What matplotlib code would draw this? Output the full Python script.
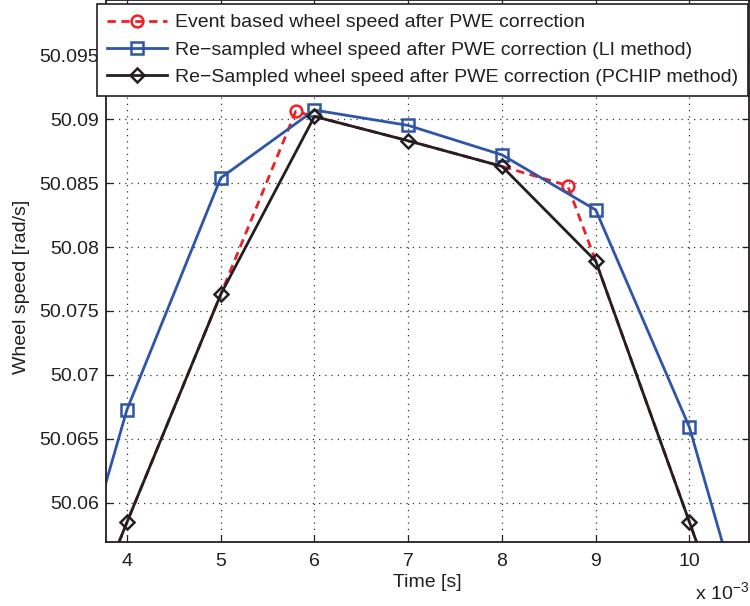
import matplotlib
matplotlib.use("Agg")
from matplotlib import pyplot as plt
from matplotlib.ticker import FuncFormatter, MultipleLocator

plt.rcParams['font.family'] = ['Liberation Sans', 'DejaVu Sans']
plt.rcParams['mathtext.fontset'] = 'custom'
plt.rcParams['mathtext.rm'] = 'Liberation Sans'

# time instants [s]
t_resampled = [0.003, 0.004, 0.005, 0.006, 0.007, 0.008, 0.009, 0.010, 0.011]
t_event = [0.003, 0.004, 0.005, 0.0058, 0.006, 0.007, 0.008, 0.0087, 0.009, 0.010, 0.011]

# wheel speed [rad/s]
speed_event = [50.0403, 50.0585, 50.0763, 50.0906, 50.0902, 50.0883, 50.0863,
               50.0848, 50.0789, 50.0585, 50.0380]
speed_li = [50.0419, 50.0673, 50.0854, 50.0907, 50.0895, 50.0872, 50.0829,
            50.0659, 50.0403]
speed_pchip = [50.0403, 50.0585, 50.0763, 50.0902, 50.0883, 50.0863, 50.0789,
               50.0585, 50.0380]

labels = ['Event based wheel speed after PWE correction',
          'Re\u2212sampled wheel speed after PWE correction (LI method)',
          'Re\u2212Sampled wheel speed after PWE correction (PCHIP method)']

red = '#ee1f26'
blue = '#2e55a8'
black = '#231f20'

fig = plt.figure(figsize=(7.5, 6.06), dpi=100)
ax = fig.add_axes([106/750, 64/606, 643/750, 542/606])

ax.plot(t_event, speed_event, '--o', color=red, lw=2, dashes=(3, 2),
        markevery=[3, 7], ms=8.5, mfc='none', mew=1.8, label=labels[0])
ax.plot(t_resampled, speed_li, '-s', color=blue, lw=2,
        ms=8, mfc='none', mew=1.8, label=labels[1])
ax.plot(t_resampled, speed_pchip, '-D', color=black, lw=2,
        ms=7.5, mfc='none', mew=1.8, label=labels[2])

ax.set_xlim(0.003776, 0.010635)
ax.set_ylim(50.05695, 50.0993)
ax.xaxis.set_major_locator(MultipleLocator(0.001))
ax.yaxis.set_major_locator(MultipleLocator(0.005))
ax.xaxis.set_major_formatter(FuncFormatter(lambda v, p: '%d' % round(v*1000)))
ax.yaxis.set_major_formatter(FuncFormatter(lambda v, p: ('%.3f' % v).rstrip('0')))

ax.grid(True, linestyle=(0, (1, 4)), color='#333333', lw=0.9)
ax.tick_params(direction='in', length=5, width=0.9, labelsize=14,
               colors=black, right=True, top=True)
ax.tick_params(axis='x', pad=8)
ax.tick_params(axis='y', pad=5)
for s in ax.spines.values():
    s.set_color(black)
    s.set_linewidth(1.3)

ax.set_xlabel('Time [s]', fontsize=14, color=black, labelpad=3)
fig.text(22/750, 1 - 287/606, 'Wheel speed [rad/s]', rotation=90,
         fontsize=14, color=black, ha='center', va='center')
fig.text(749/750, 1 - 593/606, 'x 10$^{-3}$', fontsize=14, color=black,
         ha='right', va='center')

leg = ax.legend(loc='upper right', bbox_to_anchor=(748/750, 1 - 4/606),
                bbox_transform=fig.transFigure, borderaxespad=0, fontsize=14,
                fancybox=False, framealpha=1, edgecolor=black,
                handlelength=3.1, labelspacing=0.5, borderpad=0.5,
                handletextpad=0.4)
leg.get_frame().set_linewidth(1.2)
for txt in leg.get_texts():
    txt.set_color(black)

fig.savefig('out.png', dpi=100)
